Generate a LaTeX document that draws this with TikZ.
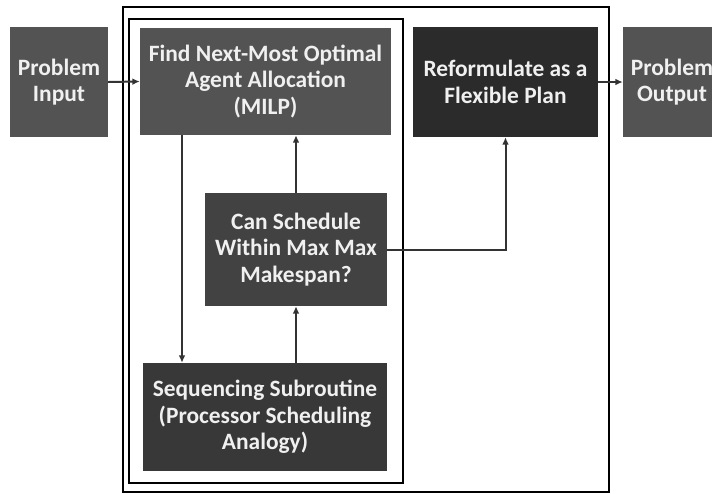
\documentclass[tikz,border=0pt]{standalone}
\usepackage{fontspec}
\setsansfont{Carlito}
\usetikzlibrary{arrows.meta,calc,positioning}
\definecolor{boxGray}   {HTML}{535353}
\definecolor{boxDark}   {HTML}{2B2B2B}
\definecolor{boxMid}    {HTML}{424242}
\definecolor{boxSeq}    {HTML}{383838}
\definecolor{lineGray}  {HTML}{333333}
\definecolor{textWhite} {HTML}{F0F0F0}
\tikzset{
  font=\sffamily\bfseries\fontsize{20}{22.5}\selectfont,
  arrow/.style={-{Latex[length=2.2mm,width=2mm]},draw=lineGray,line width=1.7pt},
  panel/.style={draw=black,line width=1.2pt,fill=none},
  proc/.style={rectangle,draw=none,text=textWhite,align=center,inner sep=2pt},
}
\begin{document}
\begin{tikzpicture}[x=0.03cm,y=-0.03cm]

\useasboundingbox[fill=white] (0,0) rectangle (712,493);

\draw[panel] (123,7) rectangle (609,492);
\draw[panel,line width=1.5pt] (129,19) rectangle (403,483);

\node[proc,fill=boxGray,minimum width=98*0.03cm,minimum height=110*0.03cm] (input) at (59,82) {Problem\\Input};

\node[proc,fill=boxGray,minimum width=251*0.03cm,minimum height=107*0.03cm] (milp) at (265.5,81.5)
  {Find Next-Most Optimal\\Agent Allocation\\(MILP)};

\node[proc,fill=boxDark,minimum width=185*0.03cm,minimum height=110*0.03cm] (reform) at (505.5,82)
  {Reformulate as a\\Flexible Plan};

\node[proc,fill=boxGray,minimum width=98*0.03cm,minimum height=110*0.03cm] (output) at (672,82) {Problem\\Output};

\node[proc,fill=boxMid,minimum width=182*0.03cm,minimum height=113*0.03cm] (check) at (296,249.5)
  {Can Schedule\\Within Max Max\\Makespan?};

\node[proc,fill=boxSeq,minimum width=244*0.03cm,minimum height=108*0.03cm] (seq) at (265,417)
  {Sequencing Subroutine\\(Processor Scheduling\\Analogy)};

\draw[arrow] (input.east) -- (milp.west);
\draw[arrow] (reform.east) -- (output.west);

\draw[arrow] (milp.south -| 182,0) -- (seq.north -| 182,0);
\draw[arrow] (seq.north -| check.south) -- (check.south);
\draw[arrow] (check.north) -- (milp.south -| check.north);

\draw[arrow] (check.east) -- (check.east -| reform.south) -- (reform.south);

\end{tikzpicture}
\end{document}
